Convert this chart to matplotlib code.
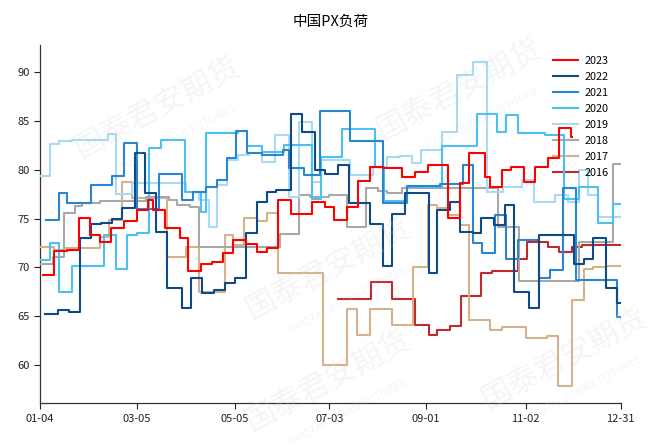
import matplotlib
matplotlib.use("Agg")
import matplotlib.pyplot as plt
import pandas as pd

plt.rcParams['font.family'] = ['Noto Sans CJK SC', 'DejaVu Sans']

# day-of-year change points (weekly data) and load values (%)
d2023 = [6, 13, 21, 28, 35, 41, 48, 56, 64, 71, 74, 82, 91, 96, 104, 111, 118, 124, 132, 139, 145, 152, 160,
         173, 181, 187, 195, 202, 209, 217, 229, 237, 245, 258, 265, 271, 281, 284, 291, 297, 305, 312, 320,
         327, 334, 335]
v2023 = [69.2, 71.7, 71.8, 75.1, 73.3, 72.6, 74.0, 74.8, 75.9, 76.9, 75.9, 74.0, 73.0, 69.6, 70.4, 70.6, 71.5,
         72.8, 72.4, 71.6, 72.0, 76.9, 75.5, 76.7, 76.2, 74.9, 76.2, 78.9, 80.3, 80.2, 79.3, 79.8, 80.5, 75.1,
         78.6, 81.7, 79.3, 78.2, 80.0, 80.3, 78.7, 80.3, 81.2, 84.3, 83.4, 83.4]

d2022 = [7, 15, 22, 29, 36, 42, 49, 55, 63, 69, 76, 83, 92, 98, 105, 112, 119, 125, 132, 139, 145, 151, 160,
         167, 175, 181, 189, 196, 209, 217, 223, 231, 246, 251, 259, 265, 273, 278, 286, 293, 299, 308, 314,
         336, 342, 348, 356, 363, 365]
v2022 = [65.2, 65.6, 65.4, 73.0, 74.5, 74.6, 75.0, 76.1, 81.7, 77.6, 73.6, 67.9, 65.8, 68.9, 67.4, 67.7, 68.4,
         68.9, 73.5, 76.7, 77.7, 77.9, 85.7, 83.9, 80.0, 79.6, 80.5, 76.6, 74.5, 70.2, 75.5, 77.6, 69.4, 75.9,
         76.7, 73.6, 73.5, 75.1, 74.3, 76.4, 67.5, 65.8, 73.3, 70.4, 70.9, 73.0, 67.9, 66.4, 66.4]

d2021 = [8, 16, 21, 36, 49, 56, 64, 78, 92, 99, 107, 114, 120, 126, 133, 142, 155, 159, 168, 178, 197, 217,
         232, 253, 267, 273, 279, 287, 294, 301, 314, 321, 329, 337, 363, 365]
v2021 = [74.9, 77.6, 76.6, 78.4, 79.4, 82.7, 76.0, 79.6, 76.9, 77.7, 78.2, 79.0, 81.2, 84.0, 81.7, 81.5, 82.0,
         80.2, 79.5, 86.0, 83.0, 76.6, 78.3, 78.5, 80.5, 72.5, 71.5, 75.4, 70.9, 72.8, 68.9, 69.7, 78.1, 68.7,
         64.9, 64.9]

d2020 = [4, 10, 16, 24, 44, 51, 58, 64, 72, 79, 94, 104, 107, 127, 133, 142, 156, 173, 179, 192, 212, 218,
         232, 254, 276, 288, 294, 301, 318, 330, 339, 351, 360, 365]
v2020 = [70.8, 72.5, 67.5, 70.2, 73.3, 69.8, 73.3, 73.5, 82.2, 83.1, 77.7, 75.7, 83.8, 84.0, 82.4, 81.8, 82.5,
         77.0, 81.3, 84.2, 80.3, 76.8, 78.2, 82.4, 85.7, 83.9, 85.6, 83.8, 83.6, 77.0, 78.2, 74.6, 76.5, 76.5]

d2019 = [4, 10, 16, 24, 46, 51, 61, 95, 103, 109, 114, 120, 127, 134, 142, 150, 159, 165, 173, 179, 197, 211,
         220, 228, 235, 241, 254, 263, 273, 282, 292, 304, 311, 324, 332, 339, 345, 351, 365]
v2019 = [79.4, 82.6, 82.9, 83.1, 83.65, 77.5, 78.6, 77.7, 76.9, 74.1, 78.4, 81.0, 81.5, 81.7, 80.8, 83.6, 77.2,
         84.9, 78.8, 81.0, 79.5, 80.3, 81.3, 81.4, 80.7, 82.0, 83.9, 89.7, 91.0, 77.7, 78.2, 79.0, 76.7, 77.4,
         76.7, 80.0, 77.4, 75.2, 75.2]

d2018 = [4, 12, 19, 26, 30, 41, 70, 84, 89, 97, 103, 153, 165, 172, 184, 195, 207, 214, 220, 229, 289, 302,
         339, 360, 365]
v2018 = [70.4, 71.1, 75.6, 76.3, 76.6, 76.8, 77.2, 76.9, 76.4, 76.2, 72.1, 73.4, 77.4, 77.2, 77.4, 74.1, 78.1,
         77.8, 77.6, 78.1, 74.1, 68.6, 72.6, 80.6, 80.6]

d2017 = [4, 13, 19, 41, 47, 55, 61, 83, 95, 103, 119, 124, 131, 139, 145, 152, 180, 195, 201, 209, 223, 236,
         245, 251, 258, 265, 271, 284, 291, 306, 319, 326, 335, 342, 348, 356, 365]
v2017 = [72.1, 71.8, 72.0, 73.1, 74.9, 78.8, 77.1, 71.1, 72.1, 67.5, 73.3, 72.3, 75.1, 74.8, 75.6, 69.4, 60.0,
         65.7, 63.1, 65.7, 64.1, 70.0, 76.4, 76.1, 75.4, 74.3, 64.6, 63.6, 63.9, 62.8, 63.0, 57.9, 66.7, 69.8,
         70.0, 70.2, 70.2]

d2016 = [189, 210, 223, 237, 246, 251, 259, 266, 278, 285, 301, 307, 320, 327, 335, 341, 365]
v2016 = [66.8, 68.5, 66.8, 64.1, 63.1, 63.6, 64.0, 67.1, 69.4, 69.6, 70.9, 72.6, 72.1, 71.6, 72.1, 72.3, 72.3]

labels = ['2023', '2022', '2021', '2020', '2019', '2018', '2017', '2016']
colors = ['#FF0000', '#0E4A86', '#2B86D2', '#4CC0F0', '#A8DAF4', '#A8A8A8', '#D4B28C', '#BE2A2E']
series = [(d2023, v2023), (d2022, v2022), (d2021, v2021), (d2020, v2020),
          (d2019, v2019), (d2018, v2018), (d2017, v2017), (d2016, v2016)]

tick_labels = ['01-04', '03-05', '05-05', '07-03', '09-01', '11-02', '12-31']

base = pd.Timestamp('2023-01-01')
def to_dates(days):
    return [base + pd.Timedelta(days=d - 1) for d in days]

fig = plt.figure(figsize=(6.56, 4.48), dpi=100)
ax = fig.add_axes([0.061, 0.1, 0.885, 0.8])

# faint watermark
for (x, y) in [(0.24, 0.76), (0.70, 0.80), (0.50, 0.40), (0.50, 0.15), (0.86, 0.20)]:
    fig.text(x, y, '国泰君安期货', fontsize=22, color='#c9d1dc', alpha=0.22, rotation=28,
             ha='center', va='center', zorder=0)
    fig.text(x + 0.03, y - 0.07, 'GUOTAI JUNAN FUTURES', fontsize=8, color='#c9d1dc', alpha=0.22,
             rotation=28, ha='center', va='center', zorder=0)

handles = {}
for i in [7, 6, 5, 4, 3, 2, 1, 0]:
    d, v = series[i]
    h, = ax.plot(to_dates(d), v, drawstyle='steps-post', color=colors[i], lw=1.5, label=labels[i],
                 zorder=2 + (7 - i))
    handles[i] = h

ticks = [pd.Timestamp('2023-' + t) for t in tick_labels]
ax.set_xticks(ticks)
ax.set_xticklabels(tick_labels)
ax.set_xlim(pd.Timestamp('2023-01-04'), pd.Timestamp('2023-12-31'))
ax.set_ylim(56.1, 92.8)
ax.set_yticks([60, 65, 70, 75, 80, 85, 90])
ax.tick_params(labelsize=8, length=4, width=0.8, colors='#222222')
for s in ['top', 'right']:
    ax.spines[s].set_visible(False)
for s in ['left', 'bottom']:
    ax.spines[s].set_linewidth(0.9)
    ax.spines[s].set_color('#333333')
ax.patch.set_alpha(0)

ax.set_title('中国PX负荷', fontsize=10.5, pad=14)

leg = ax.legend([handles[i] for i in range(8)], labels, loc='upper left',
                bbox_to_anchor=(0.884, 0.968), frameon=False, fontsize=7.8,
                handlelength=2.3, labelspacing=0.55, handletextpad=0.6,
                borderpad=0, borderaxespad=0)

fig.savefig('out.png', dpi=100)
